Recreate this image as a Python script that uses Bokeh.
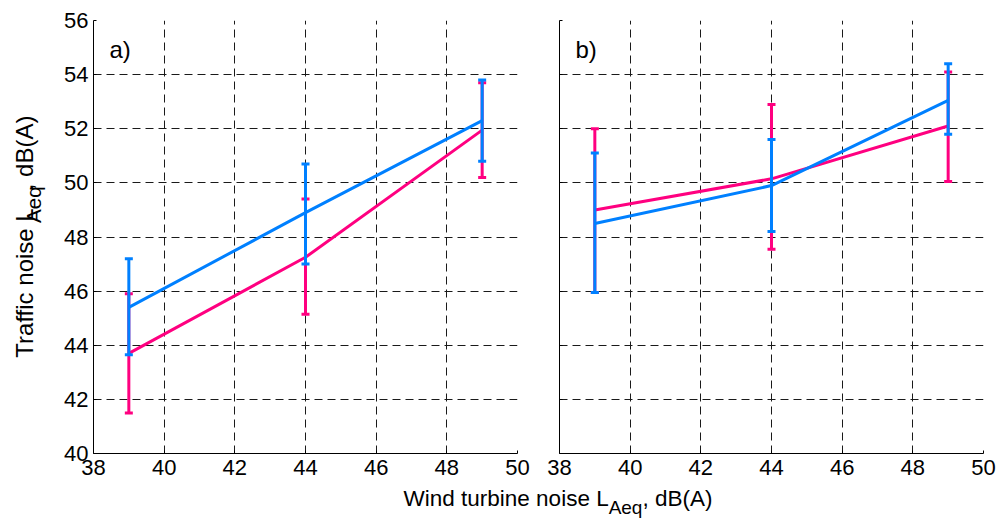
from math import pi
from bokeh.plotting import figure
from bokeh.layouts import row, column
from bokeh.models import Range1d, FixedTicker, Label
from bokeh.core.properties import value
from bokeh.embed import file_html
from bokeh.resources import INLINE

# ---------------- data ----------------
wind = [39, 44, 49]

a_pink_mean = [43.7, 47.25, 51.95]
a_pink_lo = [41.5, 45.15, 50.2]
a_pink_hi = [45.9, 49.4, 53.7]
a_blue_mean = [45.4, 48.9, 52.3]
a_blue_lo = [43.65, 47.0, 50.8]
a_blue_hi = [47.2, 50.7, 53.8]

b_pink_mean = [49.0, 50.15, 52.1]
b_pink_lo = [45.95, 47.55, 50.05]
b_pink_hi = [52.0, 52.9, 54.1]
b_blue_mean = [48.5, 49.9, 53.05]
b_blue_lo = [45.95, 48.2, 51.8]
b_blue_hi = [51.1, 51.6, 54.4]

x_ticks = [38, 40, 42, 44, 46, 48, 50]
y_ticks = [40, 42, 44, 46, 48, 50, 52, 54, 56]

PINK = "#FF0080"
BLUE = "#0080FF"
FONT = "Liberation Sans"

# Arial / Liberation Sans advance widths (per 1000 em)
AW = {" ": 278, ",": 278, "(": 333, ")": 333, "A": 667, "B": 667, "L": 556,
      "T": 611, "W": 944, "a": 556, "b": 556, "c": 500, "d": 556, "e": 556,
      "f": 278, "i": 222, "n": 556, "o": 556, "q": 556, "r": 333, "s": 500,
      "t": 278, "u": 556}


def tw(s, size):
    return sum(AW[c] for c in s) * size / 1000.0


H = 484


def make_panel(width, mbl, mbr, show_labels, tag, series):
    p = figure(width=width, height=H, x_range=Range1d(38, 50), y_range=Range1d(40, 56),
               output_backend="svg", toolbar_location=None,
               min_border_left=mbl, min_border_right=mbr, min_border_top=20, min_border_bottom=31)
    p.outline_line_color = None
    p.background_fill_color = "white"
    p.border_fill_color = "white"
    for ax in (p.xaxis[0], p.yaxis[0]):
        ax.axis_line_color = "black"
        ax.axis_line_width = 1
        ax.major_tick_line_color = "black"
        ax.major_tick_in = 3
        ax.major_tick_out = 0
        ax.minor_tick_line_color = None
        ax.major_label_text_font = FONT
        ax.major_label_text_font_size = "22px"
        ax.major_label_text_color = "black"
    p.xaxis.ticker = FixedTicker(ticks=x_ticks)
    p.yaxis.ticker = FixedTicker(ticks=y_ticks)
    p.xaxis.major_label_standoff = 6
    p.yaxis.major_label_standoff = 5
    if not show_labels:
        p.yaxis.major_label_overrides = {t: "" for t in y_ticks}
        p.yaxis.major_label_standoff = 0
    p.xgrid.ticker = FixedTicker(ticks=x_ticks)
    p.ygrid.ticker = FixedTicker(ticks=y_ticks)
    for g in (p.xgrid[0], p.ygrid[0]):
        g.grid_line_color = "#1a1a1a"
        g.grid_line_dash = "8 5"
        g.grid_line_width = 1

    for mean, lo, hi, col in series:
        p.line(wind, mean, line_color=col, line_width=3)
        p.segment(x0=wind, y0=lo, x1=wind, y1=hi, line_color=col, line_width=3)
        p.scatter(wind, hi, marker="dash", size=8, line_color=col, line_width=3)
        p.scatter(wind, lo, marker="dash", size=8, line_color=col, line_width=3)

    p.add_layout(Label(x=38.45, y=54.93, text=tag, text_font=FONT, text_font_size="24px",
                       text_color="black", text_baseline="alphabetic", text_align="left"))
    return p


p1 = make_panel(484, 40, 20, True, "a)",
                [(a_pink_mean, a_pink_lo, a_pink_hi, PINK),
                 (a_blue_mean, a_blue_lo, a_blue_hi, BLUE)])
p2 = make_panel(459, 22, 13, False, "b)",
                [(b_pink_mean, b_pink_lo, b_pink_hi, PINK),
                 (b_blue_mean, b_blue_lo, b_blue_hi, BLUE)])

# ---------------- y label (left strip) ----------------
p0 = figure(width=53, height=H, x_range=Range1d(0, 53), y_range=Range1d(H, 0),
            output_backend="svg", toolbar_location=None, min_border=0,
            x_axis_location=None, y_axis_location=None)
p0.grid.visible = False
p0.outline_line_color = None

ym, ys = 24, 20.5
y1, y2, y3 = "Traffic noise L", "Aeq", ", dB(A)"
w1, w2, w3 = tw(y1, ym), tw(y2, ys), tw(y3, ym)
ystart = 246 + (w1 + w2 + w3) / 2.0
p0.text(x=[24, 24], y=[ystart, ystart - w1 - w2], text=[y1, y3], angle=pi / 2,
        text_font=value(FONT), text_font_size=value(f"{ym}px"), text_color="black",
        text_baseline="alphabetic", text_align="left")
p0.text(x=[33], y=[ystart - w1], text=[y2], angle=pi / 2,
        text_font=value(FONT), text_font_size=value(f"{ys}px"), text_color="black",
        text_baseline="alphabetic", text_align="left")

# ---------------- x label (bottom strip) ----------------
p3 = figure(width=996, height=521 - H, x_range=Range1d(0, 996), y_range=Range1d(521, H),
            output_backend="svg", toolbar_location=None, min_border=0,
            x_axis_location=None, y_axis_location=None)
p3.grid.visible = False
p3.outline_line_color = None

xm, xs = 22.5, 19
x1, x2, x3 = "Wind turbine noise L", "Aeq", ", dB(A)"
v1, v2, v3 = tw(x1, xm), tw(x2, xs), tw(x3, xm)
xstart = 557.5 - (v1 + v2 + v3) / 2.0
p3.text(x=[xstart, xstart + v1 + v2], y=[498, 498], text=[x1, x3],
        text_font=value(FONT), text_font_size=value(f"{xm}px"), text_color="black",
        text_baseline="alphabetic", text_align="left")
p3.text(x=[xstart + v1], y=[507], text=[x2],
        text_font=value(FONT), text_font_size=value(f"{xs}px"), text_color="black",
        text_baseline="alphabetic", text_align="left")

layout = column(row(p0, p1, p2), p3)
open("out.html", "w").write(file_html(layout, INLINE))
